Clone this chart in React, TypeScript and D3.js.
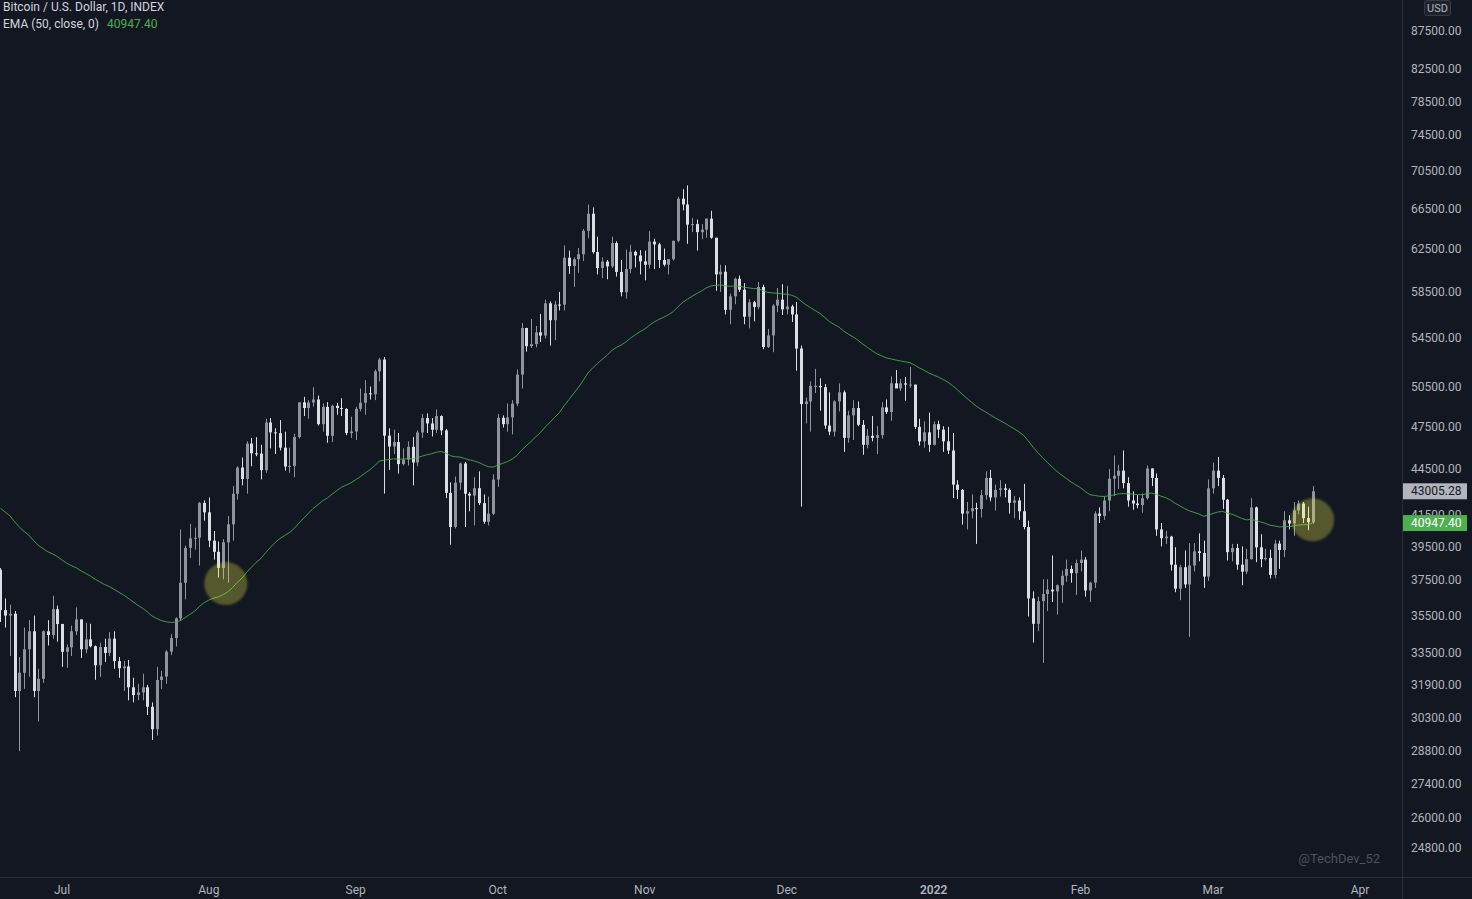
import React, { useEffect } from 'react';
import * as d3 from 'd3';

type Ohlc = [number, number, number, number]; // open, high, low, close

const firstCandleDate = new Date(2021, 5, 18);

const jun2021: Ohlc[] = [
  [38100,38200,35150,35800],[35800,36450,34850,35500],[35500,36100,33350,35600],[35600,35750,31300,31600],
  [31600,33300,28800,32500],[32500,34850,31700,33700],[33700,35250,32300,34650],[34650,35500,31300,31600],
  [31600,32700,30150,32200],[32200,34700,32000,34650],[34650,35250,33900,34450],[34450,36600,34250,35850],
  [35850,36050,34100,35040],
];
const jul2021: Ohlc[] = [
  [35040,35050,32800,33570],[33570,33950,32750,33800],[33800,34950,33350,34650],[34650,35950,34450,35290],
  [35290,35290,33250,33700],[33700,35100,33500,34220],[34220,35050,33800,33860],[33860,33900,32150,32880],
  [32880,34050,32300,33820],[33820,34250,33050,33510],[33510,34600,33350,34260],[34260,34650,32700,33090],
  [33090,33300,32250,32730],[32730,33100,31600,32820],[32820,33150,31150,31780],[31780,32250,31050,31400],
  [31400,31950,31150,31530],[31530,32450,31150,31780],[31780,31900,30450,30840],[30840,31050,29300,29790],
  [29790,32800,29500,32140],[32140,32600,31700,32310],[32310,33650,31950,33580],[33580,34500,33400,34290],
  [34290,35400,33850,35350],[35350,40550,35200,37340],[37340,39550,36400,39410],[39410,40900,38800,39990],
  [39990,40650,39300,40030],[40030,42300,38350,42240],[42240,42400,41100,41630],
];
const aug2021: Ohlc[] = [
  [41630,42600,39450,39850],[39850,40450,38700,39170],[39170,39800,37650,38210],[38210,39950,37550,39750],
  [39750,41400,37350,40870],[40870,43350,39850,42840],[42840,44700,42450,44610],[44610,45300,43400,43830],
  [43830,46450,42850,46290],[46290,46700,44700,45600],[45600,46750,45400,45580],[45580,46200,43800,44430],
  [44430,48100,44250,47820],[47820,48150,45950,47100],[47100,47400,45550,47040],[47040,48000,45800,46000],
  [46000,47150,44400,44680],[44680,46000,44250,44720],[44720,47000,43950,46760],[46760,49350,46650,49330],
  [49330,49750,48300,48900],[48900,49500,48100,49320],[49320,50500,49000,49550],[49550,49850,47600,47700],
  [47700,49250,47150,48990],[48990,49350,46350,46850],[46850,49150,46400,49070],[49070,49300,48400,48900],
  [48900,49650,48300,48830],[48830,48900,46900,47050],[47050,48250,46700,47160],
];
const sep2021: Ohlc[] = [
  [47160,49000,46550,48840],[48840,50400,48650,49300],[49300,51050,48400,50030],[50030,50550,49550,49950],
  [49950,51900,49500,51760],[51760,52850,50950,52700],[52700,52900,42850,46860],[46860,47400,44450,46080],
  [46080,47300,45550,46400],[46400,47050,44200,44850],[44850,45950,44750,45160],[45160,46450,44750,46060],
  [46060,46750,43400,44960],[44960,47250,44700,47090],[47090,48450,46700,48150],[48150,48500,47050,47750],
  [47750,48150,46800,47290],[47290,48800,47050,48300],[48300,48350,46900,47240],[47240,47350,42550,42900],
  [42900,43600,39600,40700],[40700,44000,40600,43580],[43580,44950,43100,44890],[44890,45000,40700,42840],
  [42840,42950,41700,42720],[42720,43950,40800,43210],[43210,44350,42100,42230],[42230,42800,40900,41030],
  [41030,42650,40800,41540],[41540,44150,41450,43790],
];
const oct2021: Ohlc[] = [
  [43790,48450,43300,48170],[48170,48350,47450,47700],[47700,49250,47150,48200],[48200,49500,46950,49230],
  [49230,51900,49050,51490],[51490,55750,50400,55330],[55330,55350,53350,53800],[53800,56100,53650,53970],
  [53970,55500,53700,54960],[54960,56550,54150,54690],[54690,57800,54450,57480],[57480,57650,53850,56000],
  [56000,57700,54300,57370],[57370,58500,56850,57360],[57360,62850,56850,61670],[61670,62350,60150,60880],
  [60880,61700,58950,61520],[61520,62600,60250,62000],[62000,64450,61350,64280],[64280,66950,63550,66000],
  [66000,66650,62050,62210],[62210,63700,60100,60690],[60690,61700,59750,61300],[61300,61450,59650,60850],
  [60850,63700,60700,63080],[63080,63250,59900,60330],[60330,61450,58100,58470],[58470,62450,57900,60600],
  [60600,62900,60200,62230],[62230,62350,60750,61880],[61880,62400,60100,61320],
];
const nov2021: Ohlc[] = [
  [61320,62350,59550,61000],[61000,64250,60650,63220],[63220,63500,60600,62950],[62950,63100,60700,61450],
  [61450,62550,60850,61010],[61010,61550,60100,61530],[61530,63300,61400,63300],[63300,67750,63150,67550],
  [67550,68550,66350,66950],[66950,68950,63000,64900],[64900,65550,64150,64950],[64950,65400,62350,64150],
  [64150,64950,63450,64400],[64400,65500,63600,65500],[65500,66300,63500,63600],[63600,63600,58600,60100],
  [60100,61000,58500,60350],[60350,60950,56500,56900],[56900,58350,55650,58100],[58100,59800,57400,59700],
  [59700,60000,58500,58700],[58700,59300,55650,56300],[56300,57850,55300,57570],[57570,57700,55900,57150],
  [57150,59400,56950,58950],[58950,59150,53550,53730],[53730,55250,53650,54700],[54700,57400,53300,57270],
  [57270,58850,56700,57800],[57800,59200,56450,56950],
];
const dec2021: Ohlc[] = [
  [56950,59050,56500,57200],[57200,57350,55850,56500],[56500,57600,51800,53600],[53600,53850,42000,49200],
  [49200,49700,47750,49400],[49400,50950,47150,50600],[50600,51950,50050,50600],[50600,51200,48700,50500],
  [50500,50750,47350,47600],[47600,50100,46900,47150],[47150,49500,46800,49400],[49400,50800,48650,50100],
  [50100,50250,45700,46700],[46700,48700,46350,48350],[48350,49500,46550,48900],[48900,49400,47550,47650],
  [47650,48000,45500,46200],[46200,47350,45950,46850],[46850,48300,46450,46700],[46700,47550,45550,46900],
  [46900,49350,46650,48950],[48950,49550,48450,48600],[48600,51350,47950,50800],[50800,51850,50450,50400],
  [50400,51150,50200,50800],[50800,51300,49450,50700],[50700,52100,50450,50700],[50700,50700,47350,47500],
  [47500,48100,46150,46450],[46450,47900,46000,47100],[47100,48550,45700,46200],
];
const jan2022: Ohlc[] = [
  [46200,47900,46150,47700],[47700,47950,46700,47300],[47300,47550,45700,46450],[46450,47500,45550,45800],
  [45800,47050,42550,43450],[43450,43750,42500,43100],[43100,43150,40850,41550],[41550,42300,40550,41700],
  [41700,42800,41250,41900],[41900,42250,39650,41850],[41850,43100,41300,42750],[42750,44350,42450,43900],
  [43900,44450,42350,42600],[42600,43450,41750,43100],[43100,43750,42650,43200],[43200,43500,42600,43100],
  [43100,43200,41550,42250],[42250,42700,41250,42400],[42400,42600,41150,41700],[41700,43500,40550,40700],
  [40700,41100,35450,36450],[36450,36850,34050,35050],[35050,36550,34650,36300],[36300,37550,33000,36700],
  [36700,37550,35750,36950],[36950,38950,36250,36850],[36850,37250,35550,37200],[37200,38050,36200,37750],
  [37750,38700,37400,38150],[38150,38350,37350,37900],[37900,38700,36650,38500],
];
const feb2022: Ohlc[] = [
  [38500,39250,38000,38700],[38700,38850,36550,36900],[36900,37400,36250,37350],[37350,41700,37050,41550],
  [41550,41950,40950,41400],[41400,42650,41150,42400],[42400,44500,41700,43850],[43850,45450,42700,44050],
  [44050,44800,43150,44400],[44400,45800,43200,43550],[43550,43950,42000,42400],[42400,43000,41800,42200],
  [42200,42750,41900,42100],[42100,42850,41600,42550],[42550,44750,42450,44550],[44550,44550,43350,43900],
  [43900,44200,40150,40550],[40550,40950,39500,40000],[40000,40450,39650,40100],[40100,40150,38050,38400],
  [38400,39450,36800,37000],[37000,38400,36350,38250],[38250,39250,37050,37250],[37250,39700,34350,38350],
  [38350,39700,38000,39200],[39200,40300,38600,39100],[39100,39850,37050,37700],[37700,43800,37450,43200],
];
const mar2022: Ohlc[] = [
  [43200,44950,42850,44400],[44400,45350,43350,43900],[43900,44100,41850,42450],[42450,42500,38650,39150],
  [39150,39650,38600,39400],[39400,39650,38100,38400],[38400,39500,37200,37990],[37990,39350,37850,38730],
  [38730,42550,38700,41950],[41950,42000,38550,39440],[39440,40250,38250,38730],[38730,39350,38650,38800],
  [38800,39300,37600,37800],[37800,39900,37600,39670],[39670,39850,38150,39280],[39280,41700,38850,41120],
  [41120,41450,40550,40920],[40920,42300,40150,41760],[41760,42400,41500,42200],[42200,42300,40950,41260],
  [41260,42000,40500,41000],[41000,43350,40900,43005.28],
];

// EMA (50, close)
const emaJun2021 = [41901,41650,41413,41028,40694,40420,40194,39857,39557,39365,39172,39042,38885];
const emaJul2021 = [38677,38486,38336,38217,38040,37890,37732,37542,37396,37244,37127,36969,36803,36647,36456,36258,36073,35905,35706,35474,35343,35224,35160,35126,35135,35221,35385,35566,35741,35996,36217];
const emaAug2021 = [36359,36469,36537,36663,36828,37064,37360,37614,37954,38254,38541,38772,39127,39440,39738,39984,40168,40347,40598,40940,41252,41568,41881,42109,42379,42554,42810,43049,43276,43424,43571];
const emaSep2021 = [43778,43995,44232,44456,44742,45054,45125,45162,45211,45197,45196,45230,45219,45292,45404,45496,45566,45673,45734,45623,45430,45357,45339,45241,45142,45066,44955,44801,44673,44638];
const emaOct2021 = [44776,44891,45021,45186,45433,45821,46134,46441,46775,47085,47493,47827,48201,48560,49074,49537,50007,50477,51018,51605,52021,52361,52711,53030,53424,53695,53882,54145,54462,54753,55010];
const emaNov2021 = [55245,55558,55848,56068,56262,56469,56737,57161,57545,57833,58112,58349,58586,58857,59043,59084,59134,59046,59009,59036,59023,58916,58863,58796,58802,58603,58450,58404,58380,58324];
const emaDec2021 = [58280,58210,58029,57683,57358,57093,56838,56590,56238,55882,55628,55411,55070,54807,54575,54303,53985,53705,53430,53174,53008,52835,52755,52663,52590,52516,52445,52251,52024,51831,51610];
const emaJan2022 = [51457,51294,51104,50896,50604,50310,49966,49642,49338,49044,48797,48605,48370,48163,47968,47777,47560,47358,47136,46884,46475,46027,45646,45295,44968,44650,44358,44099,43866,43632,43431];
const emaFeb2022 = [43246,42997,42776,42728,42676,42665,42711,42763,42827,42855,42837,42812,42784,42775,42845,42886,42794,42684,42583,42419,42206,42051,41863,41725,41626,41527,41377,41448];
const emaMar2022 = [41564,41656,41687,41588,41502,41380,41247,41148,41179,41111,41018,40931,40808,40763,40705,40721,40729,40769,40825,40842,40848,40947.4];

const priceTicks = [87500, 82500, 78500, 74500, 70500, 66500, 62500, 58500, 54500, 50500, 47500, 44500, 41500, 39500, 37500, 35500, 33500, 31900, 30300, 28800, 27400, 26000, 24800];
const timeTickDates = [
  new Date(2021, 6, 1), new Date(2021, 7, 1), new Date(2021, 8, 1), new Date(2021, 9, 1), new Date(2021, 10, 1),
  new Date(2021, 11, 1), new Date(2022, 0, 1), new Date(2022, 1, 1), new Date(2022, 2, 1), new Date(2022, 3, 1),
];
const timeTickLabels = ['Jul', 'Aug', 'Sep', 'Oct', 'Nov', 'Dec', '2022', 'Feb', 'Mar', 'Apr'];

const lastPrice = 43005.28;
const emaLast = 40947.4;

const highlightDates = [new Date(2021, 7, 4, 14), new Date(2022, 2, 22)];
const highlightPrices = [37300, 41150];

const W = 1472;
const H = 899;
const PLOT_RIGHT = 1402;
const PLOT_BOTTOM = 877;

const BG = '#131722';
const AXIS_TEXT = '#b2b5be';
const UP = '#8f939d';
const DOWN = '#dcdee5';
const GREEN = '#4caf50';
const FONT = 'Roboto, "Noto Sans", sans-serif';

export default function App() {
  useEffect(() => {
    document.body.style.margin = '0';
    document.body.style.background = BG;
  }, []);

  const candles: Ohlc[] = [
    ...jun2021, ...jul2021, ...aug2021, ...sep2021, ...oct2021,
    ...nov2021, ...dec2021, ...jan2022, ...feb2022, ...mar2022,
  ];
  const ema: number[] = [
    ...emaJun2021, ...emaJul2021, ...emaAug2021, ...emaSep2021, ...emaOct2021,
    ...emaNov2021, ...emaDec2021, ...emaJan2022, ...emaFeb2022, ...emaMar2022,
  ];
  const dates = candles.map((_, i) => d3.timeDay.offset(firstCandleDate, i));

  const x = d3.scaleTime()
    .domain([timeTickDates[0], timeTickDates[timeTickDates.length - 1]])
    .range([62, 1360]);
  const y = d3.scaleLog().domain([24800, 87500]).range([848, 31]);

  const emaPath = d3.line<number>()
    .x((_, i) => x(dates[i]))
    .y((v) => y(v))(ema) || '';

  const yLast = y(lastPrice);
  const yEma = y(emaLast);

  return (
    <svg width={W} height={H} style={{ position: 'absolute', left: 0, top: 0, display: 'block' }} fontFamily={FONT}>
      <defs>
        <clipPath id="plot">
          <rect x={0} y={0} width={PLOT_RIGHT} height={PLOT_BOTTOM} />
        </clipPath>
        <clipPath id="tick41500">
          <rect x={PLOT_RIGHT} y={0} width={W - PLOT_RIGHT} height={yEma - 8} />
        </clipPath>
        <filter id="soft" x="-50%" y="-50%" width="200%" height="200%">
          <feGaussianBlur stdDeviation="1.2" />
        </filter>
      </defs>
      <rect x={0} y={0} width={W} height={H} fill={BG} />

      <g clipPath="url(#plot)">
        {candles.map((c, i) => {
          const [o, h, l, cl] = c;
          const cx = Math.round(x(dates[i]));
          const color = cl >= o ? UP : DOWN;
          const top = y(Math.max(o, cl));
          const bot = y(Math.min(o, cl));
          return (
            <g key={i}>
              <line x1={cx + 0.5} x2={cx + 0.5} y1={y(h)} y2={y(l)} stroke={color} strokeWidth={1} />
              <rect x={cx - 1} y={top} width={3} height={Math.max(1, bot - top)} fill={color} />
            </g>
          );
        })}
        <path d={emaPath} fill="none" stroke={GREEN} strokeOpacity={0.85} strokeWidth={1} />
        {highlightDates.map((d, i) => (
          <circle key={i} cx={x(d)} cy={y(highlightPrices[i])} r={21.5} fill="rgba(240,240,70,0.3)" filter="url(#soft)" />
        ))}
      </g>

      {/* legend */}
      <text x={3} y={7} dy="0.35em" fontSize={12} fill="#d1d4dc">Bitcoin / U.S. Dollar, 1D, INDEX</text>
      <text x={3} y={24} dy="0.35em" fontSize={12} fill="#d1d4dc">EMA (50, close, 0)</text>
      <text x={107} y={24} dy="0.35em" fontSize={12} fill={GREEN}>{emaLast.toFixed(2)}</text>

      {/* watermark */}
      <text x={1380} y={858} dy="0.35em" textAnchor="end" fontSize={13} fill="#4e525d">@TechDev_52</text>

      {/* axes separators */}
      <line x1={PLOT_RIGHT + 0.5} x2={PLOT_RIGHT + 0.5} y1={0} y2={H} stroke="#2a2e39" />
      <line x1={0} x2={W} y1={PLOT_BOTTOM + 0.5} y2={PLOT_BOTTOM + 0.5} stroke="#2a2e39" />

      {/* price axis */}
      {priceTicks.map((p) => (
        <text key={p} x={1411} y={y(p)} dy="0.35em" fontSize={12} fill={AXIS_TEXT}
          clipPath={p === 41500 ? 'url(#tick41500)' : undefined}>{p.toFixed(2)}</text>
      ))}
      <rect x={1424.5} y={0.5} width={26} height={15} rx={2} fill="#1e222d" stroke="#363a45" />
      <text x={1437.5} y={8} dy="0.35em" textAnchor="middle" fontSize={11} fill={AXIS_TEXT}>USD</text>

      <rect x={1403} y={yLast - 8} width={64} height={16} fill="#b2b5be" />
      <text x={1411} y={yLast} dy="0.35em" fontSize={12} fill="#131722">{lastPrice.toFixed(2)}</text>
      <rect x={1403} y={yEma - 8} width={64} height={16} fill={GREEN} />
      <text x={1411} y={yEma} dy="0.35em" fontSize={12} fill="#ffffff">{emaLast.toFixed(2)}</text>

      {/* time axis */}
      {timeTickDates.map((d, i) => (
        <text key={i} x={x(d)} y={890} dy="0.35em" textAnchor="middle" fontSize={12}
          fill={AXIS_TEXT} fontWeight={timeTickLabels[i] === '2022' ? 600 : 400}>{timeTickLabels[i]}</text>
      ))}
    </svg>
  );
}
